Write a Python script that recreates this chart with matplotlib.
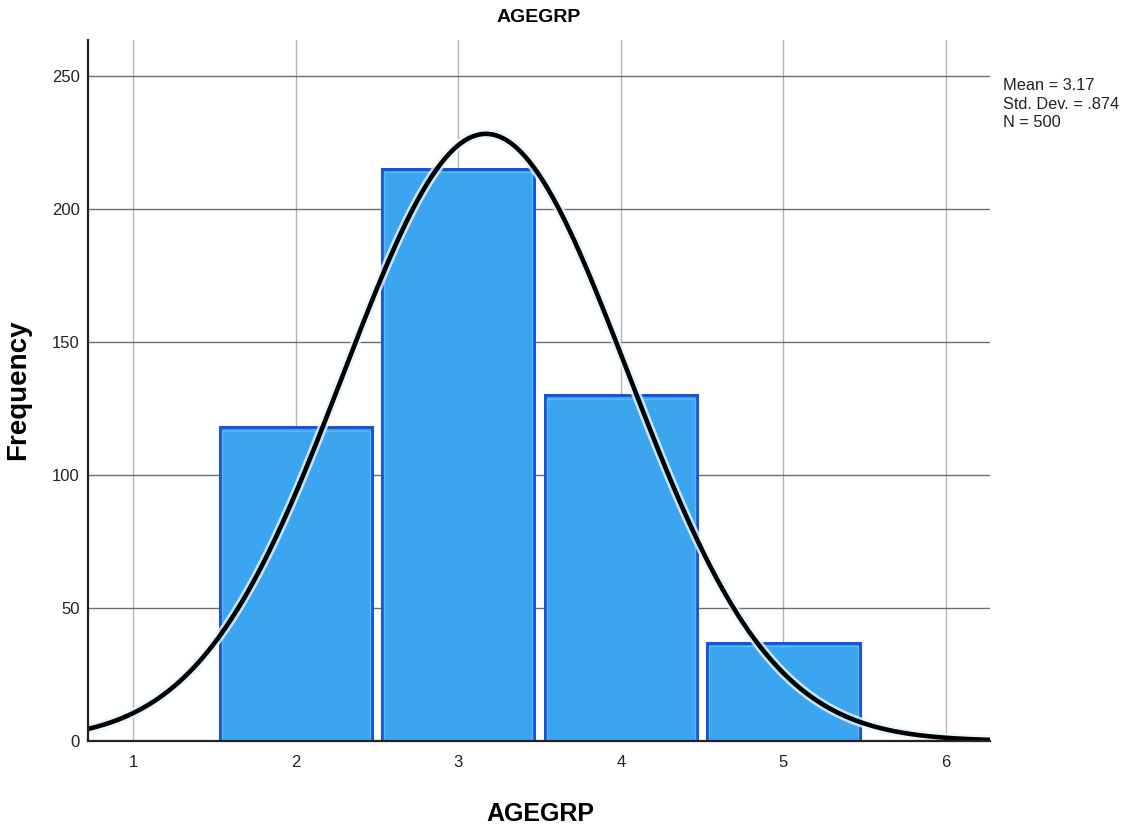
import numpy as np
import matplotlib
matplotlib.use("Agg")
import matplotlib.pyplot as plt
import matplotlib.patheffects as pe

# Data
categories = [2, 3, 4, 5]
frequencies = [118, 215, 130, 37]
mean_val = 3.17
std_val = 0.874
n_val = 500
x_ticks = [1, 2, 3, 4, 5, 6]
y_ticks = [0, 50, 100, 150, 200, 250]

plt.rcParams['font.family'] = ['Liberation Sans', 'DejaVu Sans']

fig = plt.figure(figsize=(11.25, 8.31), dpi=100)
ax = fig.add_axes([88/1125, 1-741/831, (990-88)/1125, (741-40)/831])

ax.set_xlim(0.723, 6.27)
ax.set_ylim(0, 263.5)

# grid
for xt in x_ticks:
    ax.axvline(xt, color='#b4b4b4', lw=1.0, zorder=0)
for yt in y_ticks[1:]:
    ax.axhline(yt, color='#6e6e6e', lw=1.0, zorder=0)

# bars
w = 0.935
ax.bar(categories, frequencies, width=w, color='#3ca5f0', edgecolor='#1b53d6',
       linewidth=2.2, zorder=2)
ax.bar(categories, [f - 1.3 for f in frequencies], width=w - 0.024, color='none',
       edgecolor='#5ab8f6', linewidth=1.0, zorder=2.5)

# normal curve
xs = np.linspace(0.723, 6.27, 500)
ys = n_val * 1.0 / (std_val * np.sqrt(2*np.pi)) * np.exp(-0.5*((xs - mean_val)/std_val)**2)
ax.plot(xs, ys, color='black', lw=3.3, zorder=3, solid_capstyle='butt',
        path_effects=[pe.Stroke(linewidth=7, foreground='#e4f6ff', alpha=0.8), pe.Normal()])

ax.set_xticks(x_ticks)
ax.set_yticks(y_ticks)
ax.tick_params(length=0, labelsize=12, colors='#222222', pad=10)
ax.tick_params(axis='y', pad=6)
for s in ['top', 'right']:
    ax.spines[s].set_visible(False)
for s in ['left', 'bottom']:
    ax.spines[s].set_color('#222222')
    ax.spines[s].set_linewidth(1.6)
    ax.spines[s].set_zorder(4)

fig.text(539/1125, 1-18/831, 'AGEGRP', ha='center', va='center', fontsize=14, fontweight='bold')
fig.text(540/1125, 1-814/831, 'AGEGRP', ha='center', va='center', fontsize=18, fontweight='bold')
fig.text(18/1125, 1-390/831, 'Frequency', ha='center', va='center', rotation=90,
         fontsize=20, fontweight='bold')
fig.text(1003/1125, 1-78/831, 'Mean = 3.17\nStd. Dev. = .874\nN = 500', ha='left', va='top',
         fontsize=11.8, linespacing=1.3, color='#222222')

fig.savefig('out.png', dpi=100)
